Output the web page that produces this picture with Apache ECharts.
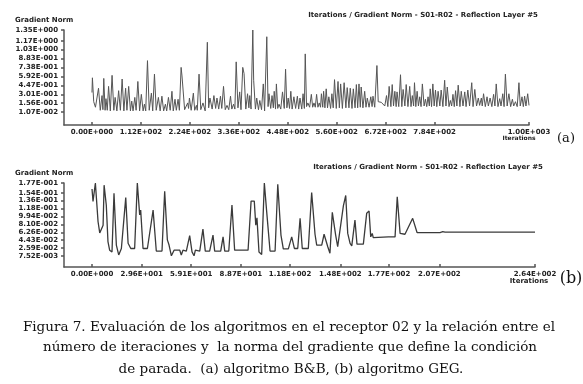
<!DOCTYPE html>
<html>
<head>
<meta charset="utf-8">
<script src="https://cdn.jsdelivr.net/npm/echarts@6/dist/echarts.min.js"></script>
<style>
  html, body { margin: 0; padding: 0; background: #fff; }
  #main { width: 583px; height: 384px; }
</style>
</head>
<body>
<div id="main"></div>
<script>
// (a) B&B: [iteration, gradient norm]
const normA = [
  [0, 0.33], [1, 0.57], [4, 0.18], [8, 0.09], [12, 0.06],
  [15, 0.40], [19, 0.04], [23, 0.28], [25, 0.05], [27, 0.56], [30, 0.04],
  [32, 0.23], [35, 0.04], [38, 0.43], [42, 0.03], [46, 0.61], [50, 0.04],
  [53, 0.25], [57, 0.03], [61, 0.36], [65, 0.04], [69, 0.55], [73, 0.03],
  [77, 0.40], [80, 0.04], [84, 0.43], [88, 0.03], [91, 0.19], [94, 0.03],
  [98, 0.25], [101, 0.04], [105, 0.51], [109, 0.03], [113, 0.30], [117, 0.03],
  [120, 0.14], [123, 0.03], [127, 0.85], [131, 0.04], [136, 0.32], [139, 0.03],
  [143, 0.63], [147, 0.04], [152, 0.25], [156, 0.03], [160, 0.27], [164, 0.03],
  [168, 0.14], [171, 0.03], [175, 0.25], [179, 0.04], [183, 0.35], [186, 0.03],
  [190, 0.22], [193, 0.04], [197, 0.22], [200, 0.04], [204, 0.74], [206, 0.60],
  [212, 0.05], [219, 0.16], [221, 0.07], [223, 0.24], [227, 0.04], [232, 0.32],
  [235, 0.04], [239, 0.12], [241, 0.04], [245, 0.63], [249, 0.05], [254, 0.16],
  [259, 0.03], [264, 1.15], [267, 0.08], [270, 0.24], [275, 0.06], [279, 0.28],
  [283, 0.07], [286, 0.24], [290, 0.06], [294, 0.27], [297, 0.07], [301, 0.43],
  [305, 0.05], [309, 0.12], [313, 0.05], [317, 0.27], [320, 0.06], [324, 0.14],
  [327, 0.06], [330, 0.83], [334, 0.08], [338, 0.34], [341, 0.05], [345, 0.74],
  [348, 0.64], [352, 0.06], [356, 0.31], [359, 0.08], [361, 0.28], [364, 0.06],
  [368, 1.35], [370, 0.53], [374, 0.06], [377, 0.24], [381, 0.05], [384, 0.20],
  [388, 0.05], [392, 0.47], [395, 0.03], [400, 1.24], [403, 0.10], [405, 0.31],
  [409, 0.07], [412, 0.28], [415, 0.08], [417, 0.35], [420, 0.06], [422, 0.47],
  [425, 0.07], [428, 0.14], [432, 0.06], [436, 0.34], [440, 0.07], [443, 0.71],
  [446, 0.08], [449, 0.24], [452, 0.07], [455, 0.35], [458, 0.06], [462, 0.26],
  [466, 0.07], [470, 0.27], [473, 0.06], [476, 0.24], [480, 0.06], [483, 0.31],
  [486, 0.07], [488, 0.96], [491, 0.10], [494, 0.16], [498, 0.09], [502, 0.30],
  [505, 0.09], [508, 0.16], [511, 0.09], [514, 0.30], [517, 0.09], [520, 0.16],
  [523, 0.09], [525, 0.31], [528, 0.09], [530, 0.35], [533, 0.08], [536, 0.39],
  [539, 0.08], [542, 0.26], [546, 0.07], [549, 0.31], [552, 0.08], [555, 0.54],
  [559, 0.07], [563, 0.51], [566, 0.08], [569, 0.47], [573, 0.07], [577, 0.49],
  [581, 0.08], [584, 0.41], [588, 0.08], [591, 0.40], [595, 0.07], [598, 0.39],
  [602, 0.08], [605, 0.46], [608, 0.08], [611, 0.47], [614, 0.09], [616, 0.42],
  [620, 0.08], [624, 0.35], [627, 0.09], [630, 0.24], [634, 0.09], [638, 0.26],
  [641, 0.10], [643, 0.27], [647, 0.09], [652, 0.77], [655, 0.18], [662, 0.17],
  [666, 0.16], [670, 0.11], [674, 0.28], [677, 0.10], [680, 0.43], [684, 0.10],
  [687, 0.46], [690, 0.11], [693, 0.35], [696, 0.10], [698, 0.34], [702, 0.10],
  [706, 0.62], [709, 0.10], [712, 0.38], [716, 0.11], [719, 0.46], [723, 0.10],
  [727, 0.43], [730, 0.10], [733, 0.28], [736, 0.11], [738, 0.49], [741, 0.10],
  [744, 0.35], [747, 0.11], [750, 0.26], [753, 0.10], [756, 0.47], [760, 0.11],
  [763, 0.22], [766, 0.10], [769, 0.26], [772, 0.11], [774, 0.39], [777, 0.10],
  [780, 0.47], [783, 0.11], [786, 0.37], [789, 0.10], [792, 0.35], [796, 0.11],
  [799, 0.37], [803, 0.10], [807, 0.53], [810, 0.11], [813, 0.42], [817, 0.10],
  [820, 0.20], [823, 0.11], [826, 0.30], [829, 0.10], [832, 0.36], [835, 0.11],
  [838, 0.45], [842, 0.10], [845, 0.35], [849, 0.11], [853, 0.34], [856, 0.10],
  [860, 0.37], [864, 0.11], [869, 0.49], [872, 0.10], [876, 0.38], [880, 0.11],
  [884, 0.24], [887, 0.12], [891, 0.24], [893, 0.11], [896, 0.31], [900, 0.10],
  [904, 0.26], [907, 0.11], [911, 0.24], [915, 0.10], [919, 0.30], [922, 0.11],
  [925, 0.47], [929, 0.10], [933, 0.23], [936, 0.11], [940, 0.31], [943, 0.10],
  [946, 0.63], [950, 0.11], [954, 0.31], [958, 0.10], [962, 0.22], [965, 0.11],
  [969, 0.18], [973, 0.10], [977, 0.49], [980, 0.11], [984, 0.26], [987, 0.10],
  [990, 0.27], [993, 0.11], [997, 0.31], [1000, 0.12]
]

// (b) GEG: [iteration, gradient norm]
const normB = [
  [0, 0.163], [0.6, 0.134], [2, 0.177], [3.6, 0.087], [4.6, 0.061], [5.5, 0.058],
  [6.6, 0.079], [7.2, 0.172], [8.5, 0.126], [9.5, 0.041], [10.5, 0.021], [11.9, 0.017],
  [13.1, 0.153], [14.5, 0.033], [15.9, 0.010], [17.5, 0.025], [20.1, 0.143], [21.5, 0.037],
  [23.1, 0.025], [25.4, 0.025], [27, 0.177], [28.4, 0.103], [29, 0.114], [30.4, 0.025],
  [33, 0.025], [36.4, 0.114], [38.3, 0.019], [41.7, 0.019], [43.3, 0.158], [44.9, 0.045],
  [45.9, 0.033], [47.3, 0.008], [48.9, 0.021], [52.3, 0.021], [53.2, 0.010], [54.2, 0.021],
  [56.2, 0.019], [58.2, 0.055], [59.6, 0.017], [60.8, 0.008], [61.6, 0.021], [64.2, 0.019],
  [66.1, 0.070], [67.5, 0.019], [70.1, 0.019], [72.1, 0.056], [73.1, 0.019], [76.7, 0.019],
  [78.1, 0.052], [79.1, 0.019], [81.5, 0.019], [83.4, 0.126], [85, 0.021], [93, 0.021],
  [94.8, 0.135], [96.7, 0.135], [97.6, 0.079], [98.3, 0.096], [99.5, 0.017], [101.1, 0.011],
  [102.7, 0.177], [104.1, 0.110], [106.1, 0.019], [109.1, 0.019], [110.7, 0.174], [112.6, 0.056],
  [114, 0.024], [117, 0.024], [119, 0.052], [120.6, 0.025], [122.6, 0.025], [124, 0.095],
  [125.3, 0.025], [128.9, 0.025], [130.9, 0.155], [132.9, 0.058], [133.9, 0.033], [136.9, 0.033],
  [138.3, 0.058], [139.3, 0.056], [140.5, 0.029], [141.8, 0.014], [143.2, 0.109], [144, 0.110],
  [145.2, 0.056], [146.4, 0.029], [149.8, 0.124], [151.2, 0.148], [152.4, 0.060], [153.8, 0.037],
  [154.8, 0.031], [156.7, 0.091], [157.9, 0.035], [161.7, 0.035], [163.7, 0.107], [165.1, 0.112],
  [166.1, 0.052], [167, 0.060], [167.6, 0.050], [176.6, 0.052], [177.6, 0.055], [178.6, 0.052],
  [180.6, 0.052], [181.9, 0.145], [183.6, 0.060], [186.5, 0.058], [191.1, 0.095], [193.7, 0.062],
  [207.4, 0.062], [209, 0.064], [210.4, 0.063], [264, 0.063]
]

// tick positions printed on the axes
const xTicksA = [0, 112, 224, 336, 448, 560, 672, 784, 1000]
const yTicksA = [0.0107, 0.156, 0.301, 0.447, 0.592, 0.738, 0.883, 1.03, 1.17, 1.35]
const xTicksB = [0, 29.6, 59.1, 88.7, 118, 148, 177, 207, 264]
const yTicksB = [0.00752, 0.0259, 0.0443, 0.0626, 0.081, 0.0994, 0.118, 0.136, 0.154, 0.177]

const chartTitle = 'Iterations / Gradient Norm - S01-R02 - Reflection Layer #5'
const caption = [
  'Figura 7. Evaluación de los algoritmos en el receptor 02 y la relación entre el',
  'número de iteraciones y  la norma del gradiente que define la condición',
  'de parada.  (a) algoritmo B&B, (b) algoritmo GEG.'
]

function fmtE(v) {
  let parts = v.toExponential(2).split('e')
  let e = parseInt(parts[1], 10)
  return parts[0] + 'E' + (e < 0 ? '-' : '+') + String(Math.abs(e)).padStart(3, '0')
}

const axisFont = { fontFamily: 'DejaVu Sans', fontWeight: 'bold', fontSize: 7, color: '#222' }
const axisLine = { show: true, onZero: false, lineStyle: { color: '#555', width: 1.5 } }

function xAxis(grid, min, max, ticks) {
  return {
    type: 'value', gridIndex: grid, min: min, max: max,
    axisLine: axisLine,
    axisTick: { show: true, inside: true, length: 3, customValues: ticks, lineStyle: { color: '#555', width: 1.5 } },
    axisLabel: Object.assign({ customValues: ticks, margin: 4, formatter: fmtE }, axisFont),
    splitLine: { show: false }
  }
}
function yAxis(grid, min, max, ticks) {
  return {
    type: 'value', gridIndex: grid, min: min, max: max,
    axisLine: axisLine,
    axisTick: { show: true, length: 3, customValues: ticks, lineStyle: { color: '#555', width: 1.5 } },
    axisLabel: Object.assign({ customValues: ticks, margin: 6, formatter: fmtE }, axisFont),
    splitLine: { show: false }
  }
}

function txt(x, y, text, style) {
  return {
    type: 'text', x: x, y: y,
    style: Object.assign({
      text: text, align: 'center', verticalAlign: 'middle', fill: '#222',
      font: 'bold 7px "DejaVu Sans"'
    }, style || {})
  }
}

const captionFont = '13.5px "DejaVu Serif"'

const myChart = echarts.init(document.getElementById('main'), null, { renderer: 'canvas' })
myChart.setOption({
  backgroundColor: '#fff',
  animation: false,
  grid: [
    { left: 64, top: 30, width: 465, height: 95 },
    { left: 64, top: 183, width: 471, height: 84 }
  ],
  xAxis: [xAxis(0, -64, 1000, xTicksA), xAxis(1, -16.7, 264, xTicksB)],
  yAxis: [yAxis(0, -0.2, 1.35, yTicksA), yAxis(1, -0.018, 0.177, yTicksB)],
  series: [
    {
      type: 'line', xAxisIndex: 0, yAxisIndex: 0, data: normA,
      showSymbol: false, lineStyle: { color: '#555', width: 1 }
    },
    {
      type: 'line', xAxisIndex: 1, yAxisIndex: 1, data: normB,
      showSymbol: false, lineStyle: { color: '#3a3a3a', width: 1.3 }
    }
  ],
  graphic: [
    txt(423, 15, chartTitle),
    txt(15, 20, 'Gradient Norm', { align: 'left' }),
    txt(519, 138, 'Iterations', { font: 'bold 6px "DejaVu Sans"' }),
    txt(566, 139, '(a)', { font: '13px "DejaVu Serif"', fill: '#111' }),
    txt(428, 167, chartTitle),
    txt(15, 173, 'Gradient Norm', { align: 'left' }),
    txt(529, 281, 'Iterations'),
    txt(571, 279, '(b)', { font: '16px "DejaVu Serif"', fill: '#111' }),
    txt(289, 327, caption[0], { font: captionFont, fill: '#111' }),
    txt(290, 347, caption[1], { font: captionFont, fill: '#111' }),
    txt(291, 369, caption[2], { font: captionFont, fill: '#111' })
  ]
})
</script>
</body>
</html>
